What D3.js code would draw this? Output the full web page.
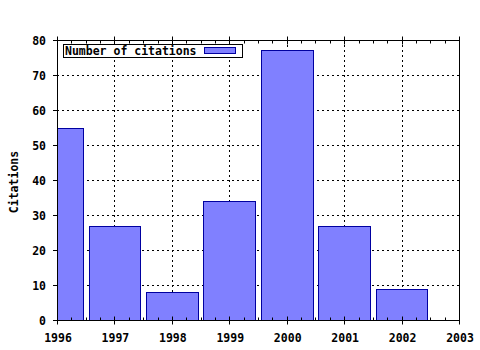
<!DOCTYPE html>
<html>
<head>
<meta charset="utf-8">
<script src="https://cdn.jsdelivr.net/npm/d3@7"></script>
<style>
  body { margin: 0; background: #fff; }
  text { font-family: "DejaVu Sans Mono", monospace; font-weight: bold; font-size: 11.5px; }
</style>
</head>
<body>
<div id="chart"></div>
<script>
// citations per year
const years = [1996, 1997, 1998, 1999, 2000, 2001, 2002];
const citations = [55, 27, 8, 34, 77, 27, 9];
const yTicks = [0, 10, 20, 30, 40, 50, 60, 70, 80];
const xTicks = [1996, 1997, 1998, 1999, 2000, 2001, 2002, 2003];
const seriesName = "Number of citations";

const W = 480, H = 350;
const plotL = 57, plotR = 459, plotT = 40, plotB = 320;

const svg = d3.select("#chart").append("svg")
    .attr("width", W)
    .attr("height", H);

const x = d3.scaleLinear().domain([1996, 2003]).range([plotL, plotR]);
const y = d3.scaleLinear().domain([0, 80]).range([plotB, plotT]);

// clip so the first bar is cut at the axis
svg.append("clipPath").attr("id", "plot")
  .append("rect")
    .attr("x", plotL).attr("y", plotT)
    .attr("width", plotR - plotL).attr("height", plotB - plotT);

// dotted grid
const grid = svg.append("g")
    .attr("stroke", "#000")
    .attr("stroke-width", 1)
    .attr("stroke-dasharray", "2,3");

grid.selectAll(".gx")
  .data(xTicks.slice(1, -1))
  .join("line")
    .attr("x1", d => Math.round(x(d)) + 0.5)
    .attr("x2", d => Math.round(x(d)) + 0.5)
    .attr("y1", plotT)
    .attr("y2", plotB);

grid.selectAll(".gy")
  .data(yTicks.slice(1, -1))
  .join("line")
    .attr("y1", d => Math.round(y(d)) + 0.5)
    .attr("y2", d => Math.round(y(d)) + 0.5)
    .attr("x1", plotL)
    .attr("x2", plotR);

// bars
const barW = 0.9;
svg.append("g")
    .attr("clip-path", "url(#plot)")
  .selectAll("rect")
  .data(years)
  .join("rect")
    .attr("x", d => Math.round(x(d - barW / 2)) + 0.5)
    .attr("width", d => Math.round(x(d + barW / 2)) - Math.round(x(d - barW / 2)))
    .attr("y", (d, i) => Math.round(y(citations[i])) + 0.5)
    .attr("height", (d, i) => plotB - Math.round(y(citations[i])))
    .attr("fill", "#8080ff")
    .attr("stroke", "#0000a0")
    .attr("stroke-width", 1);

// frame
svg.append("rect")
    .attr("x", plotL + 0.5).attr("y", plotT + 0.5)
    .attr("width", plotR - plotL).attr("height", plotB - plotT)
    .attr("fill", "none")
    .attr("stroke", "#000");

// x ticks: major cross the axis, minor inside (bottom and top)
const minor = d3.range(1996, 2003.001, 0.25).filter(v => Math.abs(v - Math.round(v)) > 0.01);
const ticks = svg.append("g").attr("stroke", "#000");

[[plotB, -1], [plotT, 1]].forEach(([yy, dir]) => {
    ticks.append("g").selectAll("line")
      .data(xTicks)
      .join("line")
        .attr("x1", d => Math.round(x(d)) + 0.5)
        .attr("x2", d => Math.round(x(d)) + 0.5)
        .attr("y1", yy + 0.5 - dir * 4)
        .attr("y2", yy + 0.5 + dir * 4);
    ticks.append("g").selectAll("line")
      .data(minor)
      .join("line")
        .attr("x1", d => Math.round(x(d)) + 0.5)
        .attr("x2", d => Math.round(x(d)) + 0.5)
        .attr("y1", yy + 0.5)
        .attr("y2", yy + 0.5 + dir * 3);
});

// y ticks on the left
ticks.append("g").selectAll("line")
  .data(yTicks)
  .join("line")
    .attr("x1", plotL - 4)
    .attr("x2", plotL + 0.5)
    .attr("y1", d => Math.round(y(d)) + 0.5)
    .attr("y2", d => Math.round(y(d)) + 0.5);

// tick labels
svg.append("g").selectAll("text")
  .data(xTicks)
  .join("text")
    .attr("x", d => x(d) + 1)
    .attr("y", 342)
    .attr("text-anchor", "middle")
    .text(d => d);

svg.append("g").selectAll("text")
  .data(yTicks)
  .join("text")
    .attr("x", 46)
    .attr("y", d => y(d) + 4.5)
    .attr("text-anchor", "end")
    .text(d => d);

// axis title
svg.append("text")
    .attr("transform", `translate(18,${(plotT + plotB) / 2 + 2}) rotate(-90)`)
    .attr("text-anchor", "middle")
    .text("Citations");

// legend
const lg = svg.append("g");
lg.append("rect")
    .attr("x", 63.5).attr("y", 44.5)
    .attr("width", 179).attr("height", 13)
    .attr("fill", "#fff")
    .attr("stroke", "#000");
lg.append("text")
    .attr("x", 65)
    .attr("y", 55)
    .text(seriesName);
lg.append("rect")
    .attr("x", 204.5).attr("y", 47.5)
    .attr("width", 31).attr("height", 6)
    .attr("fill", "#8080ff")
    .attr("stroke", "#0000a0");
</script>
</body>
</html>
